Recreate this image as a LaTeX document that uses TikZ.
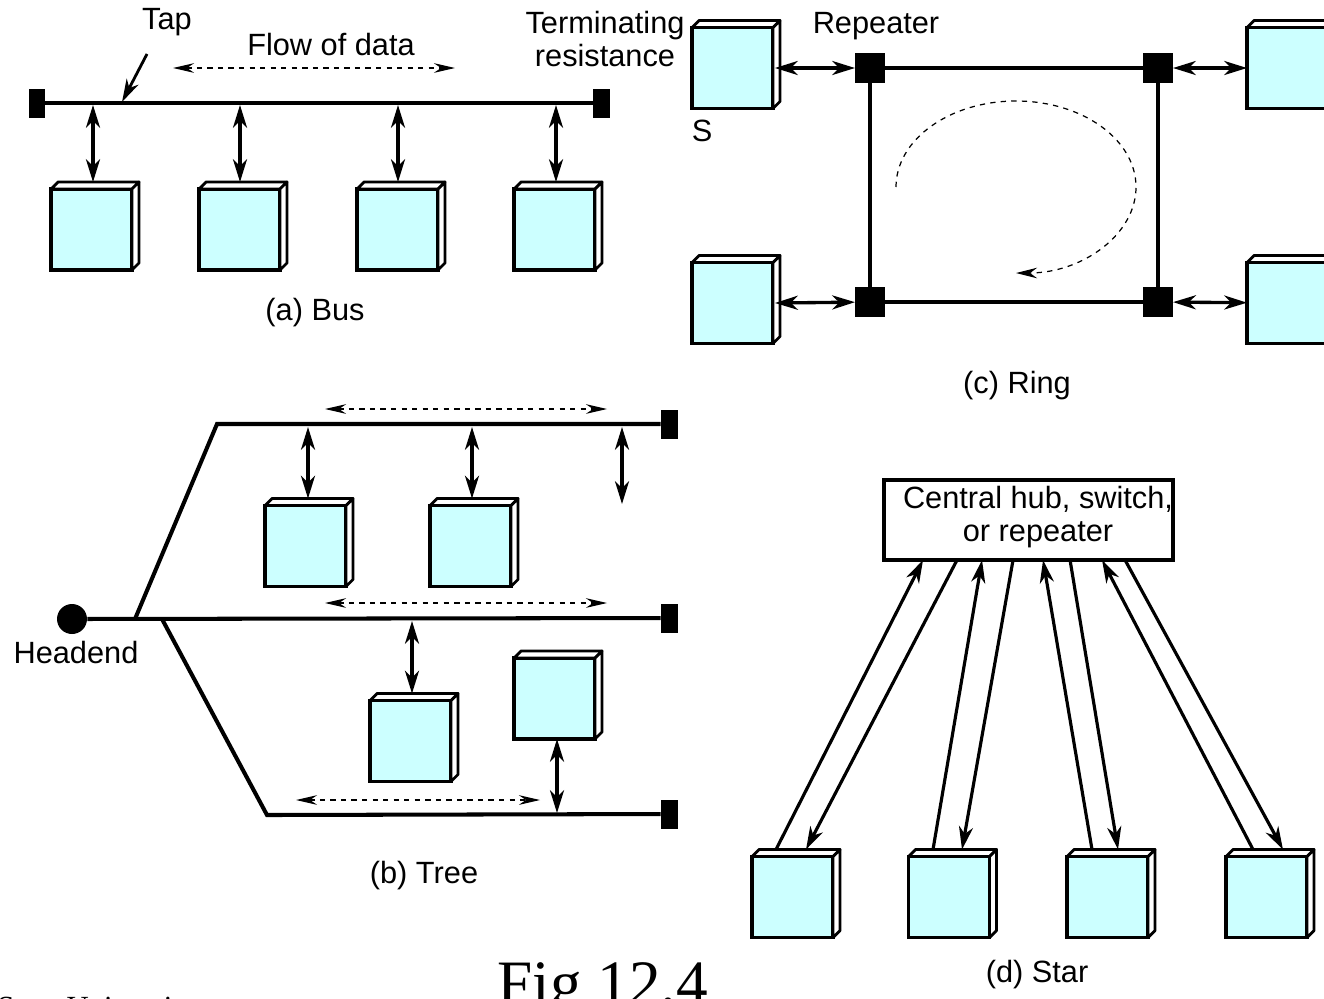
\documentclass[tikz,border=0pt]{standalone}
\usepackage{fontspec}
\setmainfont{Liberation Sans}
\newfontfamily\serifface{Liberation Serif}
\usetikzlibrary{arrows.meta,calc,positioning}
\definecolor{boxcyan}{RGB}{204,255,255}
\tikzset{
  station/.style={draw, line width=2pt, fill=boxcyan, minimum width=1.62cm, minimum height=1.62cm, inner sep=0pt, outer sep=0pt},
  term/.style={fill=black, minimum width=0.34cm, minimum height=0.58cm, inner sep=0pt, outer sep=0pt},
  repeater/.style={fill=black, minimum size=0.6cm, inner sep=0pt, outer sep=0pt},
  cable/.style={line width=2.3pt},
  link/.style={line width=1.9pt, {Stealth[length=13pt,width=8pt,inset=4pt]}-{Stealth[length=13pt,width=8pt,inset=4pt]}},
  uplink/.style={line width=1.8pt, -{Stealth[length=13pt,width=8pt,inset=4pt]}},
  flow/.style={dashed, line width=0.7pt, {Stealth[length=12pt,width=5.5pt,inset=4pt]}-{Stealth[length=12pt,width=5.5pt,inset=4pt]}},
  flowone/.style={dashed, line width=0.7pt, -{Stealth[length=12pt,width=6pt,inset=4pt]}}
}
\newcommand{\extrude}[1]{%
  \draw[line width=1.6pt, fill=white, line join=round] (#1.north west) -- ++(7,7) -- ($(#1.north east)+(7,7)$) -- (#1.north east) -- cycle;
  \draw[line width=1.6pt, fill=white, line join=round] (#1.north east) -- ++(7,7) -- ($(#1.south east)+(7,7)$) -- (#1.south east) -- cycle;}
\begin{document}
\begin{tikzpicture}[x=0.02cm, y=0.02cm, every node/.style={font=\fontsize{17.5}{19}\selectfont}]
\useasboundingbox (0,0) rectangle (1324,-998);
\node[term] (busL) at (37,-103) {};
\node[term] (busR) at (601,-103) {};
\draw[cable] (busL) -- (busR);
\foreach \n/\x in {b1/91.5,b2/239.5,b3/397.5,b4/554.5} \node[station] (\n) at (\x,-229.5) {};
\foreach \n in {b1,b2,b3,b4} \extrude{\n};
\foreach \n/\x in {b1/93,b2/240,b3/398,b4/556} {
  \coordinate (tap\n) at (\x,-105);
  \draw[link] (tap\n) -- ($(tap\n |- \n.north)+(0,7)$);
}
\node (taplbl) at (167,-22) {Tap};
\coordinate (tapA) at (122,-102);
\draw[line width=1.6pt, -{Stealth[length=13pt,width=7.5pt,inset=4pt]}] (taplbl.south) ++(-20,-12) -- (tapA);
\node (flowlbl) at (331,-45) {Flow of data};
\draw[flow] (173,-68) -- (455,-68);
\node (buslbl) at (315,-313) {(a) Bus};
\node[station] (rs1) at (732.5,-68) {};
\node[station] (rs2) at (1287.5,-68) {};
\node[station] (rs3) at (732.5,-303) {};
\node[station] (rs4) at (1287.5,-303) {};
\foreach \n in {rs1,rs2,rs3,rs4} \extrude{\n};
\node[repeater] (r1) at (870,-68) {};
\node[repeater] (r2) at (1158,-68) {};
\node[repeater] (r3) at (870,-302) {};
\node[repeater] (r4) at (1158,-302) {};
\draw[cable] (r1.center) -- (r2.center) -- (r4.center) -- (r3.center) -- cycle;
\draw[link] ($(rs1.east)+(2,0)$) -- (r1);
\draw[link] (r2) -- (rs2);
\draw[link] ($(rs3.east)+(2,0)$) -- (r3);
\draw[link] (r4) -- (rs4);
\draw[flowone] (896,-187) arc[start angle=180, end angle=-90, x radius=120, y radius=86];
\node (slbl) at (702,-131) {S};
\node (replbl) at (876,-26) {Repeater};
\node[align=center] (termlbl) at (605,-39) {Terminating\\resistance};
\node (ringlbl) at (1017,-386) {(c) Ring};
\node[circle, fill=black, minimum size=0.6cm, inner sep=0pt] (head) at (72,-619) {};
\node (headlbl) at (76,-652) {Headend};
\node[term] (tT) at (669,-424) {};
\node[term] (tM) at (669,-618) {};
\node[term] (tB) at (669,-814) {};
\coordinate (jU) at (135,-619);
\coordinate (jD) at (162,-619);
\coordinate (cU) at (217,-424);
\coordinate (cD) at (267,-815);
\draw[cable] (head) -- (tM);
\draw[cable] (jU) -- (cU) -- (tT);
\draw[cable] (jD) -- (cD) -- (tB);
\node[station] (t1) at (305.5,-546) {};
\node[station] (t2) at (470.5,-546) {};
\node[station] (t3) at (410.5,-741) {};
\node[station] (t4) at (554.5,-698.5) {};
\foreach \n in {t1,t2,t3,t4} \extrude{\n};
\draw[link] (308,-427) -- ($(308,0 |- t1.north)+(0,7)$);
\draw[link] (472,-427) -- ($(472,0 |- t2.north)+(0,7)$);
\draw[link] (412,-621) -- ($(412,0 |- t3.north)+(0,7)$);
\draw[link] (557,0 |- t4.south) -- (557,-813);
\draw[link] (622,-427) -- (622,-504);
\draw[flow] (325,-409) -- (607,-409);
\draw[flow] (325,-603) -- (607,-603);
\draw[flow] (296,-800) -- (540,-800);
\node (treelbl) at (424,-876) {(b) Tree};
\node[draw, line width=2pt, minimum width=5.78cm, minimum height=1.6cm, inner sep=0pt, outer sep=0pt] (hub) at (1028.5,-520) {};
\node[align=center] (hubtxt) at (1038,-517) {Central hub, switch,\\or repeater};
\foreach \n/\x in {s1/792.5,s2/949,s3/1107.5,s4/1266.5} \node[station] (\n) at (\x,-897) {};
\foreach \n in {s1,s2,s3,s4} \extrude{\n};
\foreach \n/\a/\b/\c/\d in {s1/-16.5/13.5/39/73, s2/-16/13/98/129, s3/-15.5/10.5/159/186, s4/-13.5/16.5/218/241} {
  \draw[uplink] ($(\n.north)+(\a,7)$) -- ($(hub.south west)+(\c,0)$);
  \draw[uplink] ($(hub.south west)+(\d,0)$) -- ($(\n.north)+(\b,7)$);
}
\node (starlbl) at (1037,-975) {(d) Star};
\node[anchor=base west, inner sep=0pt, font=\serifface\fontsize{36}{40}\selectfont] (fig) at (497,-1004) {Fig 12.4};
\node[anchor=base west, inner sep=0pt, font=\serifface\fontsize{17.5}{20}\selectfont] (uni) at (-3,-1017) {State University};
\end{tikzpicture}
\end{document}
